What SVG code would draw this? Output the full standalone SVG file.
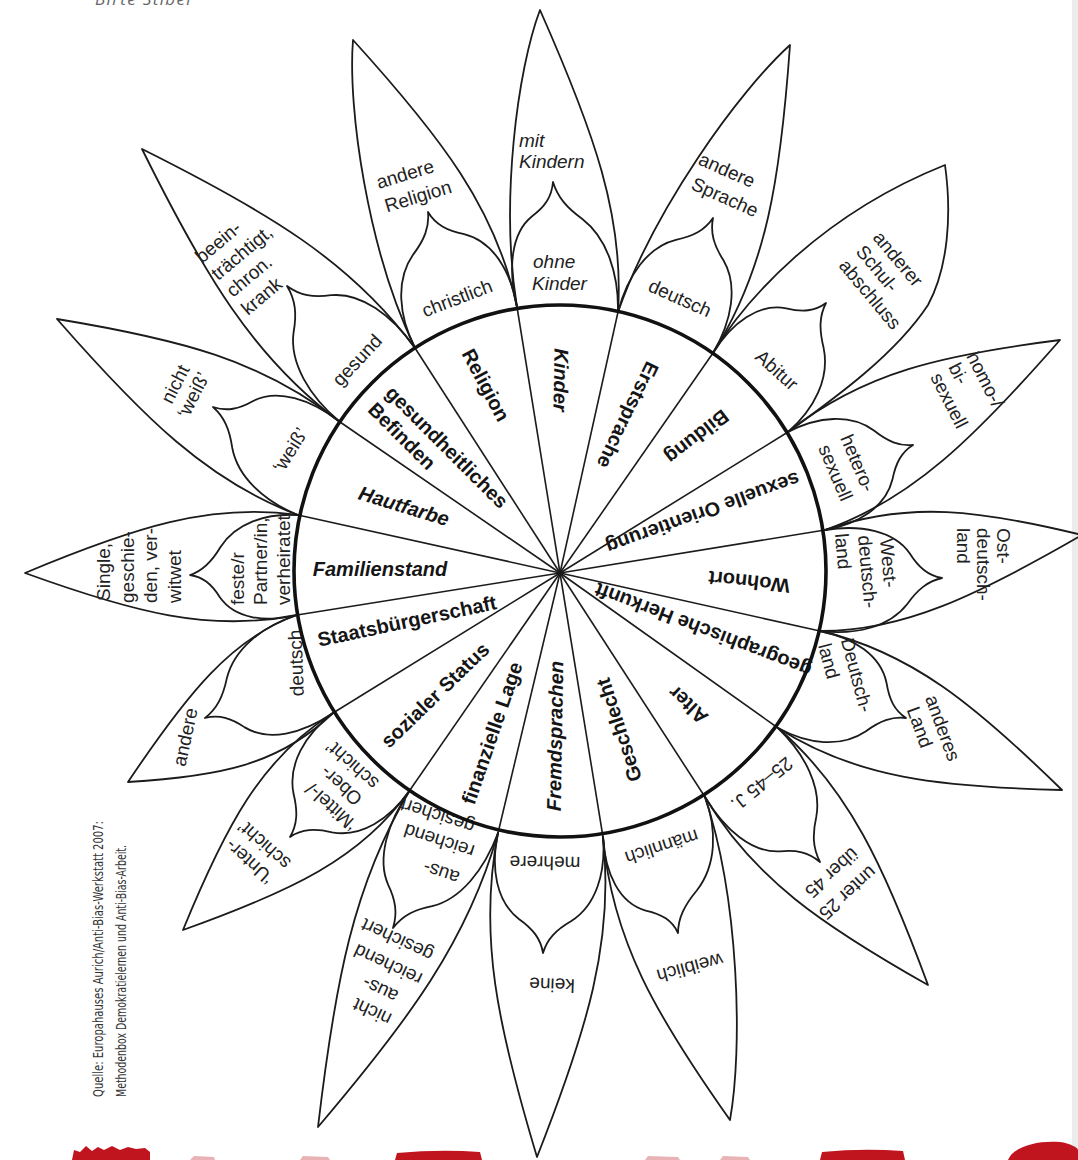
<svg xmlns="http://www.w3.org/2000/svg" width="1078" height="1160" viewBox="0 0 1078 1160">
<style>
.pet{fill:none;stroke:#1b1b1b;stroke-width:1.8;stroke-linejoin:round;stroke-linecap:round;vector-effect:non-scaling-stroke}
.sp{stroke:#1b1b1b;stroke-width:1.6;fill:none}
.ring{fill:none;stroke:#111;stroke-width:3.6}
.L{font-family:"Liberation Sans",Arial,sans-serif;font-weight:bold;font-size:20px;fill:#151515;text-anchor:middle}
.p{font-family:"Liberation Sans",Arial,sans-serif;font-size:19px;fill:#222}
.m{text-anchor:middle}
.i{font-style:italic}
.red{fill:#c0141e}
.src{font-family:"Liberation Sans Narrow","DejaVu Sans Condensed","Liberation Sans",sans-serif;font-size:14px;fill:#333}
</style>
<defs>
<path id="op" class="pet" d="M-1,0 C-1.3,0.32 -0.85,0.6 0,1 C0.85,0.6 1.3,0.32 1,0"/>
<path id="op2" class="pet" d="M-1,0 C-1.15,0.35 -0.55,0.8 0,1 C0.85,0.6 1.3,0.32 1,0"/>
<path id="ip" class="pet" d="M-1,0 C-1.1,0.3 -0.95,0.58 -0.5,0.72 C-0.22,0.8 -0.06,0.88 0,1 C0.06,0.88 0.22,0.8 0.5,0.72 C0.95,0.58 1.1,0.3 1,0"/>
</defs>
<rect width="1078" height="1160" fill="#fff"/>
<rect x="1072" y="0" width="6" height="1160" fill="#ececec"/>
<text x="95" y="5" font-family="'Open Sans',sans-serif" font-style="italic" font-size="17" fill="#666" textLength="98">Birte Stiber</text>

<g id="kinder">
<use href="#op2" transform="matrix(50.5,2.5,-27.5,-299.5,567.5,309.5)"/>
<use href="#ip" transform="matrix(50.5,2.5,-14.5,-127.5,567.5,309.5)"/>
<text class="L i" transform="translate(561,380) rotate(91)" dy="0.35em">Kinder</text>
<text class="p i" x="519" y="147">mit</text>
<text class="p i" x="519" y="168">Kindern</text>
<text class="p i" x="533" y="268">ohne</text>
<text class="p i" x="532" y="290">Kinder</text>
</g>

<g id="erstsprache">
<use href="#op2" transform="matrix(47.5,20.5,124.5,-287.5,665.5,332.5)"/>
<use href="#ip" transform="matrix(47.5,20.5,47.5,-114.5,665.5,332.5)"/>
<text class="L" transform="translate(628,415) rotate(116)" dy="0.35em">Erstsprache</text>
<text class="p m" transform="translate(727,170) rotate(24)" dy="0.35em">andere</text>
<text class="p m" transform="translate(725,197) rotate(24)" dy="0.35em">Sprache</text>
<text class="p m" transform="translate(680,298) rotate(24)" dy="0.35em">deutsch</text>
</g>

<g id="bildung">
<path class="pet" d="M713,353 C745,300 820,215 945,165 C952,215 948,268 928,305 C895,355 835,398 788,432"/>
<use href="#ip" transform="matrix(37.5,39.5,75.5,-89.5,750.5,392.5)"/>
<text class="L" transform="translate(697,437) rotate(142)" dy="0.35em">Bildung</text>
<text class="p" transform="translate(872,238) rotate(50)">anderer</text>
<text class="p" transform="translate(855,252) rotate(50)">Schul-</text>
<text class="p" transform="translate(838,266) rotate(50)">abschluss</text>
<text class="p m" transform="translate(777,370) rotate(42)" dy="0.35em">Abitur</text>
</g>

<g id="sexuelle-orientierung">
<use href="#op" transform="matrix(18.5,49,253.5,-141,806.5,481)"/>
<use href="#ip" transform="matrix(18.5,49,106.5,-36,806.5,481)"/>
<text class="L" transform="translate(703,513) rotate(160)" dy="0.35em">sexuelle Orientierung</text>
<text class="p" font-size="17" transform="translate(966,356) rotate(63)">homo-/</text>
<text class="p" font-size="17" transform="translate(948,367) rotate(63)">bi-</text>
<text class="p" font-size="17" transform="translate(930,377) rotate(63)">sexuell</text>
<text class="p" transform="translate(840,438) rotate(67)">hetero-</text>
<text class="p" transform="translate(818,448) rotate(67)">sexuell</text>
</g>

<g id="wohnort">
<use href="#op" transform="matrix(-2.5,50.5,259.5,-45.5,822.5,580.5)"/>
<use href="#ip" transform="matrix(-2.5,50.5,119.5,-2.5,822.5,580.5)"/>
<text class="L" font-size="19" transform="translate(749,582) rotate(186)" dy="0.35em">Wohnort</text>
<text class="p" transform="translate(997,528) rotate(90)">Ost-</text>
<text class="p" transform="translate(977,528) rotate(90)">deutsch-</text>
<text class="p" transform="translate(957,528) rotate(90)">land</text>
<text class="p" transform="translate(880,539) rotate(85)">West-</text>
<text class="p" transform="translate(858,536) rotate(85)">deutsch-</text>
<text class="p" transform="translate(835,534) rotate(85)">land</text>
</g>

<g id="geographische-herkunft">
<use href="#op" transform="matrix(-21,48.5,263,110.5,799,679.5)"/>
<use href="#ip" transform="matrix(-21,48.5,107,38.5,799,679.5)"/>
<text class="L" font-size="16.5" transform="translate(703,630) rotate(-159)" dy="0.35em">geographische Herkunft</text>
<text class="p m" transform="translate(943,728) rotate(70)" dy="0.35em">anderes</text>
<text class="p m" transform="translate(920,727) rotate(70)" dy="0.35em">Land</text>
<text class="p m" transform="translate(857,675) rotate(75)" dy="0.35em">Deutsch-</text>
<text class="p m" transform="translate(829,661) rotate(75)" dy="0.35em">land</text>
</g>

<g id="alter">
<use href="#op" transform="matrix(-36.5,34.5,186.5,222.5,741.5,762.5)"/>
<use href="#ip" transform="matrix(-36.5,34.5,78.5,99.5,741.5,762.5)"/>
<text class="L" font-size="21" transform="translate(688,705) rotate(-137)" dy="0.35em">Alter</text>
<text class="p m" transform="translate(848,893) rotate(138)" dy="0.35em">unter 25</text>
<text class="p m" transform="translate(832,873) rotate(138)" dy="0.35em">über 45</text>
<text class="p m" transform="translate(762,784) rotate(141)" dy="0.35em">25–45 J.</text>
</g>

<g id="geschlecht">
<use href="#op2" transform="matrix(-51,20,76,303,654,817)"/>
<use href="#ip" transform="matrix(-51,20,24,116,654,817)"/>
<text class="L" transform="translate(619,730) rotate(-108)" dy="0.35em">Geschlecht</text>
<text class="p m" transform="translate(662,847) rotate(162)" dy="0.35em">männlich</text>
<text class="p m" transform="translate(690,968) rotate(165)" dy="0.35em">weiblich</text>
</g>

<g id="fremdsprachen">
<use href="#op" transform="matrix(-52.5,-2,-13.5,322,550.5,835)"/>
<use href="#ip" transform="matrix(-52.5,-2,-7.5,118,550.5,835)"/>
<text class="L i" font-size="21" transform="translate(555,736) rotate(-89)" dy="0.35em">Fremdsprachen</text>
<text class="p m" transform="translate(545,863) rotate(181)" dy="0.35em">mehrere</text>
<text class="p m" transform="translate(552,985) rotate(182)" dy="0.35em">keine</text>
</g>

<g id="finanzielle-lage">
<use href="#op" transform="matrix(-44,-21.5,-136,315.5,454,811.5)"/>
<use href="#ip" transform="matrix(-44,-21.5,-61,116.5,454,811.5)"/>
<text class="L" font-size="21" transform="translate(492,733) rotate(-71)" dy="0.35em">finanzielle Lage</text>
<text class="p m" transform="translate(441,873) rotate(198)" dy="0.35em">aus-</text>
<text class="p m" transform="translate(439,841) rotate(198)" dy="0.35em">reichend</text>
<text class="p m" transform="translate(437,816) rotate(198)" dy="0.35em">gesichert</text>
<text class="p m" transform="translate(372,1012) rotate(205)" dy="0.35em">nicht</text>
<text class="p m" transform="translate(380,990) rotate(205)" dy="0.35em">aus-</text>
<text class="p m" transform="translate(388,965) rotate(205)" dy="0.35em">reichend</text>
<text class="p m" transform="translate(397,940) rotate(205)" dy="0.35em">gesichert</text>
</g>

<g id="sozialer-status">
<use href="#op" transform="matrix(-38.5,-38.5,-188.5,178.5,371.5,751.5)"/>
<use href="#ip" transform="matrix(-38.5,-38.5,-81.5,85.5,371.5,751.5)"/>
<text class="L" font-size="19" transform="translate(435,695) rotate(-44)" dy="0.35em">sozialer Status</text>
<text class="p m" transform="translate(249,862) rotate(222)" dy="0.35em">‘Unter-</text>
<text class="p m" transform="translate(264,845) rotate(222)" dy="0.35em">schicht’</text>
<text class="p m" transform="translate(331,807) rotate(222)" dy="0.35em">‘Mittel-/</text>
<text class="p m" transform="translate(341,786) rotate(222)" dy="0.35em">Ober-</text>
<text class="p m" transform="translate(352,765) rotate(222)" dy="0.35em">schicht’</text>
</g>

<g id="staatsbuergerschaft">
<use href="#op" transform="matrix(-18,-49,-187,118,315,664)"/>
<use href="#ip" transform="matrix(-18,-49,-110,54,315,664)"/>
<text class="L" font-size="21" transform="translate(407,621) rotate(-12)" dy="0.35em">Staatsbürgerschaft</text>
<text class="p m" transform="translate(296,663) rotate(-92)" dy="0.35em">deutsch</text>
<text class="p m" transform="translate(185,737) rotate(-78)" dy="0.35em">andere</text>
</g>

<g id="familienstand">
<use href="#op" transform="matrix(0.5,-50,-272.5,8,297.5,565)"/>
<use href="#ip" transform="matrix(0.5,-50,-107.5,10,297.5,565)"/>
<text class="L i" font-size="21" transform="translate(380,569)" dy="0.35em">Familienstand</text>
<text class="p" transform="translate(110,601) rotate(-90)">Single,</text>
<text class="p" transform="translate(134,603) rotate(-90)">geschie-</text>
<text class="p" transform="translate(157,603) rotate(-90)">den, ver-</text>
<text class="p" transform="translate(181,603) rotate(-90)">witwet</text>
<text class="p" font-size="17" transform="translate(244,605) rotate(-90)">feste/r</text>
<text class="p" font-size="17" transform="translate(267,605) rotate(-90)">Partner/in,</text>
<text class="p" font-size="17" transform="translate(290,605) rotate(-90)">verheiratet</text>
</g>

<g id="hautfarbe">
<use href="#op" transform="matrix(21,-46.5,-262,-149.5,319,468.5)"/>
<use href="#ip" transform="matrix(21,-46.5,-106,-61.5,319,468.5)"/>
<text class="L i" transform="translate(404,506) rotate(17)" dy="0.35em">Hautfarbe</text>
<text class="p m" transform="translate(175,384) rotate(-63)" dy="0.35em">nicht</text>
<text class="p m" transform="translate(193,395) rotate(-63)" dy="0.35em">‘weiß’</text>
<text class="p m" transform="translate(290,450) rotate(-58)" dy="0.35em">‘weiß’</text>
</g>

<g id="gesundheitliches-befinden">
<use href="#op" transform="matrix(37.5,-37,-235.5,-236,377.5,385)"/>
<use href="#ip" transform="matrix(37.5,-37,-90.5,-99,377.5,385)"/>
<text class="L" transform="translate(447,447) rotate(45)" dy="0.35em">gesundheitliches</text>
<text class="L" transform="translate(402,436) rotate(45)" dy="0.35em">Befinden</text>
<text class="p" transform="translate(202,264) rotate(-40)">beein-</text>
<text class="p" transform="translate(218,281) rotate(-40)">trächtigt,</text>
<text class="p" transform="translate(233,298) rotate(-40)">chron.</text>
<text class="p" transform="translate(248,316) rotate(-40)">krank</text>
<text class="p m" transform="translate(357,360) rotate(-47)" dy="0.35em">gesund</text>
</g>

<g id="religion">
<use href="#op2" transform="matrix(51,-20.5,-113,-287.5,466,327.5)"/>
<use href="#ip" transform="matrix(51,-20.5,-38,-115.5,466,327.5)"/>
<text class="L" transform="translate(486,385) rotate(62)" dy="0.35em">Religion</text>
<text class="p m" font-size="18" transform="translate(405,174) rotate(-17)" dy="0.35em">andere</text>
<text class="p m" font-size="18" transform="translate(418,196) rotate(-17)" dy="0.35em">Religion</text>
<text class="p m" transform="translate(457,298) rotate(-21)" dy="0.35em">christlich</text>
</g>

<g id="connectors">
<line class="sp" x1="560" y1="573" x2="517" y2="307"/>
<line class="sp" x1="560" y1="573" x2="618" y2="312"/>
<line class="sp" x1="560" y1="573" x2="713" y2="353"/>
<line class="sp" x1="560" y1="573" x2="788" y2="432"/>
<line class="sp" x1="560" y1="573" x2="825" y2="530"/>
<line class="sp" x1="560" y1="573" x2="820" y2="631"/>
<line class="sp" x1="560" y1="573" x2="778" y2="728"/>
<line class="sp" x1="560" y1="573" x2="705" y2="797"/>
<line class="sp" x1="560" y1="573" x2="603" y2="837"/>
<line class="sp" x1="560" y1="573" x2="498" y2="833"/>
<line class="sp" x1="560" y1="573" x2="410" y2="790"/>
<line class="sp" x1="560" y1="573" x2="333" y2="713"/>
<line class="sp" x1="560" y1="573" x2="297" y2="615"/>
<line class="sp" x1="560" y1="573" x2="298" y2="515"/>
<line class="sp" x1="560" y1="573" x2="340" y2="422"/>
<line class="sp" x1="560" y1="573" x2="415" y2="348"/>
</g>
<g id="hub">
<circle class="ring" cx="560" cy="571" r="266"/>
</g>

<g id="source">
<text class="src" transform="translate(103,1097) rotate(-90)" textLength="276" lengthAdjust="spacingAndGlyphs">Quelle: Europahauses Aurich/Anti-Bias-Werkstatt 2007:</text>
<text class="src" transform="translate(126,1097) rotate(-90)" textLength="252" lengthAdjust="spacingAndGlyphs">Methodenbox Demokratielernen und Anti-Bias-Arbeit.</text>
</g>

<g id="footer">
<path class="red" d="M72,1160 L74,1150 L80,1152 L86,1146 L92,1151 L98,1147 L104,1150 L112,1146 L120,1150 L128,1147 L136,1149 L145,1148 L150,1152 L150,1160 Z"/>
<path class="red" d="M395,1160 L397,1153 Q440,1149 480,1152 L482,1160 Z"/>
<path class="red" d="M820,1160 L822,1152 Q862,1148 903,1151 L905,1160 Z"/>
<path class="red" d="M1008,1160 C1012,1148 1035,1140 1060,1142 C1070,1143 1078,1148 1078,1150 L1078,1160 Z"/>
<path d="M190,1160 L194,1156 L214,1157 L215,1160 Z" fill="#e9b3b6"/>
<path d="M300,1160 L303,1156 L328,1157 L330,1160 Z" fill="#e9b3b6"/>
<path d="M645,1160 L648,1156 L678,1157 L680,1160 Z" fill="#e9b3b6"/>
<path d="M720,1160 L723,1156 L748,1157 L750,1160 Z" fill="#e9b3b6"/>
</g>
</svg>
